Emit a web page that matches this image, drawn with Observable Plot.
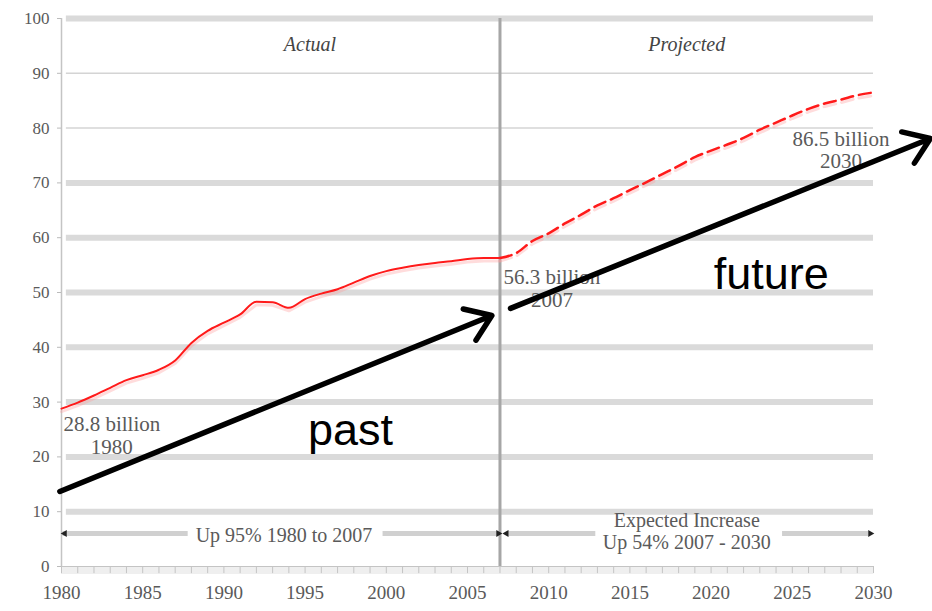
<!DOCTYPE html>
<html><head><meta charset="utf-8">
<script src="https://cdn.jsdelivr.net/npm/d3@7"></script>
<script src="https://cdn.jsdelivr.net/npm/@observablehq/plot@0.6"></script>
<style>body{margin:0;background:#fff} svg{display:block}</style>
</head><body><div id="chart"></div>
<script>
// ---- data (billions) ----
const actualYears = [1980,1981,1982,1983,1984,1985,1986,1987,1988,1989,1990,1991,1992,1993,1994,1995,1996,1997,1998,1999,2000,2001,2002,2003,2004,2005,2006,2007];
const actualValues = [28.8,29.9,31.2,32.6,34.0,34.9,35.9,37.6,40.8,43.0,44.5,46.0,48.3,48.2,47.2,48.8,49.8,50.6,51.8,53.0,53.9,54.5,55.0,55.4,55.7,56.1,56.3,56.3];
const projectedYears = [2007,2008,2009,2010,2011,2012,2013,2014,2015,2016,2017,2018,2019,2020,2021,2022,2023,2024,2025,2026,2027,2028,2029,2030];
const projectedValues = [56.3,57.2,59.4,60.8,62.6,64.2,65.9,67.2,68.7,70.1,71.6,73.1,74.7,75.9,77.0,78.2,79.7,81.0,82.3,83.5,84.5,85.2,86.0,86.5];
const xTickLabels = [1980,1985,1990,1995,2000,2005,2010,2015,2020,2025,2030];
const yTickLabels = [0,10,20,30,40,50,60,70,80,90,100];
const thickGrid = [10,20,30,40,50,60,70,100];
const thinGrid = [80,90];
const splitYear = 2007;
const periodNames = ["Actual","Projected"];
const pointTexts = ["28.8 billion","1980","56.3 billion","2007","86.5 billion","2030"];
const rangeTexts = ["Up 95% 1980 to 2007","Expected Increase","Up 54% 2007 - 2030"];
const arrowTexts = ["past","future"];

// ---- annotation anchors (in data coordinates) ----
const periodX = [1995.3, 2018.5], periodY = 94.0;
const pointX = [1983.1,1983.1,2010.2,2010.2,2028.0,2028.0];
const pointY = [24.8,20.6,51.6,47.3,76.8,72.8];
const rangeX = [1993.7,2018.5,2018.5];
const rangeY = [4.5,7.2,3.2];
const rangeSegX1 = [1980.1,1999.8,2007.5,2024.4];
const rangeSegX2 = [1987.8,2006.9,2012.9,2029.7];
const rangeLineY = 6.0;
const headX = [1980.2,2006.9,2007.4,2029.8];
const headRot = [-90,90,-90,90];
const bigArrowX1 = [1979.9,2007.65], bigArrowY1 = [13.7,47.1];
const bigArrowX2 = [2006.5,2033.5], bigArrowY2 = [45.8,78.1];
const arrowTextX = [1997.8,2023.7], arrowTextY = [22.1,50.7];

const actual = actualYears.map((y,i)=>({year:y, value:actualValues[i]}));
const projected = projectedYears.map((y,i)=>({year:y, value:projectedValues[i]}));
const years = d3.range(1980, 2031);
const serif = "Liberation Serif, DejaVu Serif, serif";
const gray = "#5a5a5a";

const chart = Plot.plot({
  width: 932, height: 611,
  marginLeft: 61, marginRight: 59, marginTop: 18, marginBottom: 45,
  style: {fontFamily: serif, background: "#fff", overflow: "visible"},
  x: {domain: [1980, 2030]},
  y: {domain: [0, 100]},
  marks: [
    // gridlines
    Plot.ruleY(thickGrid, {x1: 1980.3, x2: 2030, stroke: "#dadada", strokeWidth: 6}),
    Plot.ruleY(thinGrid, {x1: 1980.3, x2: 2030, stroke: "#d4d4d4", strokeWidth: 1.5}),
    // bottom axis band + ticks
    Plot.ruleY([0], {x1: 1980, x2: 2030, dy: 4, stroke: "#efefef", strokeWidth: 7}),
    Plot.ruleY([0], {x1: 1980, x2: 2030, stroke: "#c4c4c4", strokeWidth: 1.2}),
    Plot.ruleX(years, {y1: 0, y2: -1.3, stroke: "#c4c4c4", strokeWidth: 1}),
    Plot.ruleX([1980], {y1: 0, y2: 100, stroke: "#c4c4c4", strokeWidth: 1.5}),
    // split line
    Plot.ruleX([splitYear], {y1: 0, y2: 100, stroke: "#a6a6a6", strokeWidth: 3}),
    // range lines
    Plot.ruleY(rangeSegX1.map((d,i)=>i), {y: () => rangeLineY, x1: i => rangeSegX1[i], x2: i => rangeSegX2[i], stroke: "#d0d0d0", strokeWidth: 5}),
    Plot.dot(headX.map((d,i)=>i), {x: i => headX[i], y: () => rangeLineY, symbol: "triangle", r: 2.6, fill: "#222", stroke: "none", rotate: i => headRot[i]}),
    // shadow of series
    Plot.line(actual, {x: "year", y: "value", stroke: "#ff9a9a", strokeOpacity: 0.35, strokeWidth: 3, dy: 3}),
    Plot.line(projected, {x: "year", y: "value", stroke: "#ff9a9a", strokeOpacity: 0.35, strokeWidth: 3, dy: 3, strokeDasharray: "12,6"}),
    // series
    Plot.line(actual, {x: "year", y: "value", stroke: "#ff1a1a", strokeWidth: 2, curve: "monotone-x"}),
    Plot.line(projected, {x: "year", y: "value", stroke: "#ff1a1a", strokeWidth: 2.5, strokeDasharray: "12,6", curve: "monotone-x"}),
    // axes
    Plot.axisY(yTickLabels, {tickSize: 4, tickPadding: 8, stroke: "#bbb", fill: gray, fontSize: 17, fontFamily: serif, label: null}),
    Plot.axisX(xTickLabels, {tickSize: 0, tickPadding: 19, fill: gray, fontSize: 19, fontFamily: serif, tickFormat: d => String(d), label: null}),
    // text annotations
    Plot.text(periodNames, {x: (d,i) => periodX[i], y: () => periodY, text: d => d, fontStyle: "italic", fontSize: 20, fill: "#444", lineAnchor: "bottom", fontFamily: serif}),
    Plot.text(pointTexts, {x: (d,i) => pointX[i], y: (d,i) => pointY[i], text: d => d, fontSize: 21, fill: gray, lineAnchor: "bottom", fontFamily: serif}),
    Plot.text(rangeTexts, {x: (d,i) => rangeX[i], y: (d,i) => rangeY[i], text: d => d, fontSize: 20, fill: gray, lineAnchor: "bottom", fontFamily: serif}),
    // big arrows
    Plot.arrow(bigArrowX1.map((d,i)=>i), {x1: i => bigArrowX1[i], y1: i => bigArrowY1[i], x2: i => bigArrowX2[i], y2: i => bigArrowY2[i], stroke: "#000", strokeWidth: 5.5, headLength: 8, headAngle: 70}),
    Plot.text(arrowTexts, {x: (d,i) => arrowTextX[i], y: (d,i) => arrowTextY[i], text: d => d, fontSize: 45, fill: "#000", lineAnchor: "bottom", fontFamily: "Liberation Sans, Arial, sans-serif"})
  ]
});
document.getElementById("chart").append(chart);
</script>
</body></html>
